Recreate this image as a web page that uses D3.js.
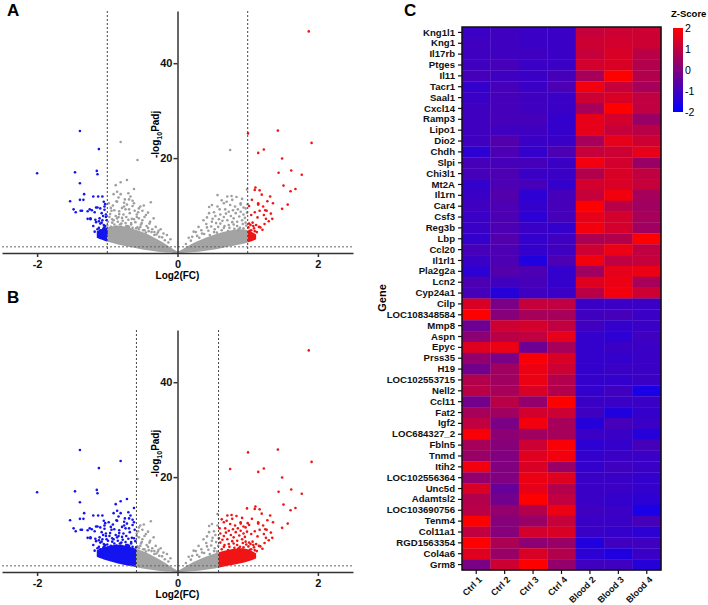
<!DOCTYPE html>
<meta charset="utf-8">
<script src="https://d3js.org/d3.v7.min.js"></script>
<style>
  body { margin: 0; background: #fff; }
  text { font-family: Arial, "Liberation Sans", sans-serif; }
</style>
<div id="my_dataviz"></div>
<script>

// ---------- volcano data (log2FC, -log10 Padj), shared by panels A and B ----------
var fcTicks = [-2, 0, 2];
var padjTicks = [20, 40];
var padjCut = 1.3;          // -log10(0.05)
var fcCutA = 1;             // |log2FC| > 1
var fcCutB = 0.585;         // |log2FC| > log2(1.5)

// dense bottom of the cloud: [log2FC, lower, upper]
var coreLeft = [[-1.15,3.2,4.6],[-1.05,2.6,5.2],[-0.95,2.2,5.6],[-0.85,1.8,5.8],[-0.75,1.5,5.6],[-0.65,1.2,5.2],
  [-0.55,0.9,4.7],[-0.45,0.6,4.1],[-0.35,0.4,3.4],[-0.25,0.2,2.6],[-0.15,0.08,1.7],[-0.05,0,0.7],[0,0,0.3]];
var coreRight = [[0,0,0.3],[0.05,0,0.6],[0.15,0.08,1.5],[0.25,0.2,2.3],[0.35,0.35,2.9],[0.45,0.55,3.5],
  [0.55,0.8,4.0],[0.65,1.1,4.4],[0.75,1.4,4.8],[0.85,1.7,5.0],[0.95,2.0,5.0],[1.05,2.4,4.6],[1.12,2.9,3.9]];

var genesDown = [[-1.39,25.7],[-1.12,21.9],[-2.0,16.8],[-1.46,17.0],[-1.15,17.3],[-1.14,16.6],[-1.39,14.7],
  [-1.33,12.4],[-1.39,11.2],[-1.34,11.2],[-1.53,10.9],[-1.20,11.9],[-1.13,11.9],[-1.07,11.9],[-1.48,9.2],
  [-1.45,8.6],[-1.38,8.9],[-1.36,8.9],[-1.25,9.2],[-1.22,9.0],[-1.16,9.6],[-1.14,9.6],[-1.10,9.4],[-1.05,10.8],
  [-1.03,10.3],[-1.04,9.8],[-1.04,9.1],[-1.18,8.6],[-1.08,8.4],[-1.28,7.2],[-1.24,7.3],[-1.17,7.0],[-1.11,7.3],
  [-1.07,6.9],[-1.02,7.6],[-1.01,6.9],[-1.20,5.7],[-1.10,6.2],[-1.05,5.9],[-1.10,4.8],[-1.09,4.7],[-1.06,5.0],
  [-1.04,5.4],[-1.01,4.6],[-1.01,4.1],[-1.07,4.1],[-1.28,8.8],[-1.24,7.1],[-1.12,6.7],[-1.05,5.3],[-1.09,3.2],
  [-1.12,5.3],[-1.08,6.4],[-1.03,5.7],[-1.18,4.5],[-1.14,5.0],[-1.11,3.8],[-1.16,6.5],[-1.02,8.1],[-1.06,7.8]];

var genesMid = [[-0.81,23.4],[-0.57,19.6],[-0.81,14.9],[-0.72,15.4],[-0.62,13.5],[-0.88,14.3],[-0.86,12.9],
  [-0.91,12.4],[-0.81,12.4],[-0.75,11.3],[-0.86,10.8],[-0.38,10.7],[-0.62,10.5],[-0.69,11.3],[-0.53,9.8],
  [-0.69,9.2],[-0.56,8.6],[-0.42,8.5],[-0.94,8.9],[-0.83,8.2],[-0.73,7.6],[-0.65,7.2],[-0.50,6.9],[-0.40,6.2],
  [-0.31,5.5],[-0.91,6.9],[-0.80,6.2],[-0.95,5.5],[-0.71,5.7],[-0.57,5.4],[-0.47,4.8],[-0.37,4.4],[-0.26,3.4],
  [-0.18,2.7],[-0.97,7.6],[-0.58,7.6],[-0.45,8.0],[-0.76,9.8],[-0.98,10.5],[-0.67,11.9],[-0.50,8.9],[-0.34,7.3],
  [-0.24,5.0],[-0.15,3.8],[-0.95,9.5],[-0.83,8.8],[-0.74,9.2],[-0.64,9.9],[-0.88,7.8],[-0.79,7.4],[-0.62,7.1],
  [-0.93,6.4],[-0.82,6.0],[-0.73,5.7],[-0.64,5.3],[-1.0,5.8],[-0.87,5.6],[-0.55,5.0],[-0.45,4.3],[-0.33,3.8],
  [-0.76,10.6],[-0.87,10.9],[-0.66,6.3],[-0.52,6.0],[-0.42,5.3],[-0.28,4.3],
  [-0.99,6.6],[-0.96,5.2],[-0.93,7.1],[-0.9,6.0],[-0.88,5.4],[-0.85,6.6],[-0.84,7.6],[-0.8,5.5],[-0.78,6.8],
  [-0.77,8.1],[-0.74,6.3],[-0.7,7.0],[-0.69,5.5],[-0.68,8.4],[-0.66,6.0],[-0.6,6.5],[-0.59,5.2],[-0.58,8.1],
  [-0.55,7.3],[-0.53,5.5],[-0.51,6.3],[-0.49,4.8],[-0.47,7.6],[-0.44,5.7],[-0.41,4.6],[-0.39,6.6],[-0.36,5.0],
  [-0.33,4.4],[-0.3,3.9],[-0.27,4.7],[-0.22,3.3],[-0.2,4.1],[-0.13,2.2],[-0.1,2.9],[-0.96,8.2],[-0.9,9.0],
  [-0.79,9.5],[-0.72,10.2],[-0.86,7.3],[-0.92,10.0],[-0.61,8.9],[-0.55,9.4],[-0.48,10.0],[-0.64,11.0],
  [-0.7,12.6],[-0.84,11.7],
  [0.75,21.7],[0.57,12.2],[0.77,12.0],[0.71,11.9],[0.78,11.2],[0.66,10.5],[0.49,10.1],[0.82,9.8],[0.60,9.2],
  [0.73,8.7],[0.90,8.7],[0.45,8.4],[0.54,7.8],[0.66,7.6],[0.80,7.3],[0.92,6.9],[0.37,6.9],[0.49,6.6],[0.61,6.2],
  [0.73,5.9],[0.85,5.7],[0.30,5.5],[0.42,5.4],[0.53,5.0],[0.94,5.2],[0.23,4.5],[0.35,4.1],[0.21,3.4],[0.90,10.5],
  [0.97,9.4],[0.45,9.7],[0.99,13.4],[0.84,11.8],[0.90,10.2],[0.94,8.1],[0.99,8.5],[0.68,9.2],[0.61,8.1],
  [0.87,5.0],[0.97,6.4],[0.66,5.3],[0.80,6.0],[0.56,4.3],[0.46,3.8],[0.72,4.6],[0.86,4.6],[0.31,3.2],
  [0.98,5.8],[0.96,7.4],[0.93,6.1],[0.89,5.3],[0.88,7.7],[0.85,6.6],[0.83,8.4],[0.81,5.1],[0.78,6.5],
  [0.76,7.8],[0.74,5.3],[0.71,6.9],[0.69,8.3],[0.67,5.7],[0.64,6.8],[0.63,4.8],[0.59,7.1],[0.58,5.5],
  [0.55,6.3],[0.52,4.4],[0.5,7.2],[0.48,5.6],[0.44,4.7],[0.41,6.1],[0.38,4.0],[0.34,4.8],[0.28,3.6],
  [0.26,4.4],[0.19,2.6],[0.16,3.2],[0.12,1.9],[0.94,9.6],[0.86,9.2],[0.79,9.0],[0.75,10.1],[0.7,10.8],
  [0.63,11.1],[0.57,9.8],[0.52,8.6],[0.42,7.5],[0.92,11.4]];

var genesUp = [[1.87,46.7],[1.43,25.8],[1.91,23.2],[1.005,25.2],[1.15,21.1],[1.23,21.8],[1.49,19.9],[1.44,16.9],
  [1.62,17.4],[1.77,16.5],[1.51,14.2],[1.61,13.0],[1.68,13.5],[1.10,13.3],[1.17,13.2],[1.20,12.3],[1.32,11.9],
  [1.02,9.9],[1.15,10.5],[1.15,10.2],[1.36,10.5],[1.57,10.2],[1.49,9.3],[1.17,8.9],[1.25,9.0],[1.27,8.9],
  [1.33,8.3],[1.23,8.0],[1.26,7.2],[1.30,6.7],[1.35,7.2],[1.12,5.9],[1.16,5.5],[1.08,5.7],[1.05,4.8],[1.03,4.7],
  [1.10,4.6],[1.24,6.1],[1.04,5.9],[1.02,6.2],[1.11,13.8],
  [1.13,4.4],[1.09,5.2],[1.07,6.4],[1.01,5.4],[1.18,5.4],[1.21,4.9],[1.14,7.5],[1.1,8.6],[1.05,8.0],
  [1.0,10.3],[1.06,11.2],[1.22,9.8],[1.28,10.9]];

// ---------- heatmap data ----------
var genes = ["Kng1l1","Kng1","Il17rb","Ptges","Il11","Tacr1","Saal1","Cxcl14","Ramp3","Lipo1","Dio2","Chdh",
  "Slpi","Chi3l1","Mt2A","Il1rn","Car4","Csf3","Reg3b","Lbp","Ccl20","Il1rl1","Pla2g2a","Lcn2","Cyp24a1",
  "Cilp","LOC108348584","Mmp8","Aspn","Epyc","Prss35","H19","LOC102553715","Nell2","Ccl11","Fat2","Igf2",
  "LOC684327_2","Fbln5","Tnmd","Itih2","LOC102556364","Unc5d","Adamtsl2","LOC103690756","Tenm4","Col11a1",
  "RGD1563354","Col4a6","Grm8"];
var samples = ["Ctrl 1","Ctrl 2","Ctrl 3","Ctrl 4","Blood 2","Blood 3","Blood 4"];
var zscores = [
  [-1.1,-1.0,-1.1,-1.1,1.1,1.2,1.2],
  [-1.0,-1.0,-1.1,-1.1,1.2,1.3,1.2],
  [-1.0,-1.0,-1.0,-1.1,1.1,1.4,0.9],
  [-1.0,-0.9,-1.1,-1.1,1.3,1.4,0.8],
  [-0.9,-1.0,-1.1,-0.9,0.6,2.0,0.8],
  [-1.2,-0.9,-1.1,-0.8,1.8,1.1,0.6],
  [-1.1,-0.9,-1.0,-1.1,1.2,1.4,1.0],
  [-1.0,-0.9,-1.0,-1.1,0.6,2.0,1.0],
  [-1.0,-0.9,-0.9,-1.2,1.6,1.3,0.4],
  [-1.0,-1.0,-1.0,-1.2,1.6,1.1,0.9],
  [-1.0,-0.7,-1.1,-1.1,0.6,1.6,1.2],
  [-1.3,-0.8,-1.2,-0.8,1.1,1.2,1.6],
  [-0.9,-0.9,-0.9,-1.1,1.8,1.3,0.4],
  [-0.9,-0.8,-1.1,-1.1,0.8,1.4,1.0],
  [-1.2,-0.8,-0.9,-1.2,1.3,1.4,1.1],
  [-1.1,-0.7,-1.3,-0.9,1.1,1.8,0.6],
  [-1.0,-0.8,-1.2,-0.9,2.0,0.9,0.5],
  [-1.1,-0.8,-1.3,-0.9,1.6,1.3,0.6],
  [-1.1,-0.8,-1.1,-1.2,1.8,1.3,0.5],
  [-1.2,-0.7,-1.2,-1.0,0.7,0.8,2.0],
  [-0.9,-0.8,-1.2,-1.0,1.2,1.7,1.0],
  [-1.1,-0.8,-1.5,-0.8,1.8,1.0,1.1],
  [-1.3,-0.7,-0.8,-1.2,0.5,1.6,1.7],
  [-0.8,-1.0,-0.9,-1.2,1.5,1.7,0.6],
  [-0.9,-1.4,-1.0,-1.1,0.9,1.8,1.2],
  [1.4,-0.1,1.1,1.0,-1.1,-1.1,-1.1],
  [2.0,0.1,0.6,0.6,-1.0,-0.9,-1.1],
  [-0.3,1.2,1.3,1.0,-1.0,-1.2,-1.1],
  [0.2,0.9,1.0,1.6,-1.2,-1.3,-1.0],
  [1.5,1.7,-0.3,0.6,-1.2,-1.1,-1.1],
  [0.3,-0.1,1.9,1.4,-1.2,-1.2,-1.1],
  [-0.2,0.5,1.7,1.2,-1.2,-1.1,-1.1],
  [0.8,0.5,1.7,0.8,-1.2,-1.2,-1.1],
  [0.9,0.6,1.4,0.8,-1.2,-1.0,-1.6],
  [-0.2,0.9,0.3,2.0,-1.1,-1.1,-1.1],
  [0.6,0.5,1.3,1.2,-1.0,-1.5,-1.2],
  [1.0,-0.1,1.8,0.6,-1.4,-0.9,-1.1],
  [1.9,0.2,0.5,0.6,-1.1,-1.1,-1.4],
  [0.6,0.1,1.2,1.9,-1.3,-1.2,-0.9],
  [0.4,0.0,1.5,1.8,-1.2,-1.1,-1.1],
  [1.8,0.0,1.4,0.4,-1.2,-1.0,-1.1],
  [0.3,0.0,1.7,1.5,-1.1,-1.1,-1.2],
  [1.4,-0.4,1.6,0.8,-1.1,-1.1,-1.2],
  [0.8,-0.2,2.0,1.0,-1.1,-1.2,-1.3],
  [0.9,0.3,0.8,1.7,-1.0,-1.1,-1.6],
  [2.0,0.1,0.4,1.1,-1.1,-1.1,-0.9],
  [1.0,0.1,1.3,1.4,-1.1,-1.2,-1.3],
  [2.0,0.7,0.2,0.4,-1.5,-1.0,-1.0],
  [1.5,0.4,1.4,0.8,-1.3,-1.5,-1.1],
  [-0.1,1.2,2.0,0.3,-1.0,-1.0,-1.4]];
var zTicks = [2, 1, 0, -1, -2];

// ---------- svg ----------
var W = 708, H = 605;
var svg = d3.select("#my_dataviz").append("svg")
    .attr("width", W).attr("height", H);

var fcPoints = genesDown.concat(genesMid, genesUp);

function drawVolcano(id, top, fcCut) {
    var x = d3.scaleLinear().domain([-2.5, 2.5]).range([2, 353]);
    var y = d3.scaleLinear().domain([0, 51]).range([top + 242, top]);
    var g = svg.append("g");

    // clip boxes for down / not sig / up
    var defs = g.append("defs");
    var parts = [
        {key: "dn", x0: 0, x1: x(-fcCut), col: "#1414f0"},
        {key: "ns", x0: x(-fcCut), x1: x(fcCut), col: "#a3a3a3"},
        {key: "up", x0: x(fcCut), x1: 360, col: "#f01414"}];
    parts.forEach(function (p) {
        defs.append("clipPath").attr("id", id + p.key)
          .append("rect").attr("x", p.x0).attr("y", top - 5)
          .attr("width", p.x1 - p.x0).attr("height", 260);
    });

    var area = d3.area().curve(d3.curveBasis)
        .x(function (d) { return x(d[0]); })
        .y0(function (d) { return y(d[1]); })
        .y1(function (d) { return y(d[2]); });

    parts.forEach(function (p) {
        var cg = g.append("g").attr("clip-path", "url(#" + id + p.key + ")");
        [coreLeft, coreRight].forEach(function (c) {
            cg.append("path").attr("d", area(c)).attr("fill", p.col);
        });
    });

    function col(d) {
        if (d[0] < -fcCut && d[1] > padjCut) return "#1414f0";
        if (d[0] > fcCut && d[1] > padjCut) return "#f01414";
        return "#9e9e9e";
    }
    g.append("g").selectAll("circle")
        .data(fcPoints)
        .enter().append("circle")
        .attr("cx", function (d) { return x(d[0]); })
        .attr("cy", function (d) { return y(d[1]); })
        .attr("r", 1.3)
        .attr("fill", col);

    // cut-off lines
    g.append("line").attr("x1", 2).attr("x2", 353)
        .attr("y1", y(padjCut)).attr("y2", y(padjCut))
        .attr("stroke", "#666").attr("stroke-width", 1).attr("stroke-dasharray", "2,2");
    [-fcCut, fcCut].forEach(function (v) {
        g.append("line").attr("x1", x(v)).attr("x2", x(v))
            .attr("y1", y(51)).attr("y2", y(0))
            .attr("stroke", "#444").attr("stroke-width", 1).attr("stroke-dasharray", "2,2");
    });

    // axes
    var xa = g.append("g").attr("transform", "translate(0," + y(0) + ")")
        .call(d3.axisBottom(x).tickValues(fcTicks).tickSize(4).tickSizeOuter(0)
              .tickFormat(function (d) { return String(d); }));
    var ya = g.append("g").attr("transform", "translate(" + x(0) + ",0)")
        .call(d3.axisLeft(y).tickValues(padjTicks).tickSize(4).tickSizeOuter(0));
    [xa, ya].forEach(function (a) {
        a.selectAll("path, line").attr("stroke", "#333").attr("stroke-width", 1.5);
        a.selectAll("text").attr("font-size", 11).attr("font-weight", "bold")
         .attr("fill", "#111").attr("font-family", "Arial, 'Liberation Sans', sans-serif");
    });
    ya.selectAll("text").attr("x", -5);

    g.append("text").attr("x", x(0)).attr("y", y(0) + 26)
        .attr("text-anchor", "middle").attr("font-size", 10).attr("font-weight", "bold")
        .text("Log2(FC)");

    var yl = g.append("text")
        .attr("transform", "translate(" + (x(0) - 19) + "," + y(25) + ") rotate(-90)")
        .attr("text-anchor", "middle").attr("font-size", 10).attr("font-weight", "bold");
    yl.append("tspan").text("-log");
    yl.append("tspan").attr("font-size", 7).attr("dy", 3).text("10");
    yl.append("tspan").attr("dy", -3).text("Padj");
}

drawVolcano("A", 11, fcCutA);
drawVolcano("B", 330, fcCutB);

// panel letters
[["A", 7, 16], ["B", 7, 303], ["C", 404, 16]].forEach(function (p) {
    svg.append("text").attr("x", p[1]).attr("y", p[2])
        .attr("font-size", 17).attr("font-weight", "bold").text(p[0]);
});

// ---------- heatmap ----------
var hx = d3.scaleBand().domain(samples).range([462, 661]);
var hy = d3.scaleBand().domain(genes).range([27, 570]);
var color = d3.scaleLinear().domain([-2, 0, 2]).range(["#0000ff", "#800080", "#ff0000"]);

var cells = [];
zscores.forEach(function (row, i) {
    row.forEach(function (v, j) { cells.push({g: genes[i], s: samples[j], v: v}); });
});
svg.append("g").selectAll("rect")
    .data(cells).enter().append("rect")
    .attr("x", function (d) { return hx(d.s); })
    .attr("y", function (d) { return hy(d.g); })
    .attr("width", hx.bandwidth() + 0.3)
    .attr("height", hy.bandwidth() + 0.3)
    .attr("fill", function (d) { return color(d.v); });

svg.append("rect").attr("x", 462).attr("y", 27).attr("width", 199).attr("height", 543)
    .attr("fill", "none").attr("stroke", "#111").attr("stroke-width", 1.5);

var ha = svg.append("g").attr("transform", "translate(462,0)")
    .call(d3.axisLeft(hy).tickSize(4).tickSizeOuter(0));
ha.select(".domain").remove();
ha.selectAll("line").attr("stroke", "#111").attr("stroke-width", 1.2);
ha.selectAll("text").attr("font-size", 9.6).attr("font-weight", "bold").attr("fill", "#111")
    .attr("font-family", "Arial, 'Liberation Sans', sans-serif");

var hb = svg.append("g").attr("transform", "translate(0,570)")
    .call(d3.axisBottom(hx).tickSize(4).tickSizeOuter(0));
hb.select(".domain").remove();
hb.selectAll("line").attr("stroke", "#111").attr("stroke-width", 1.2);
hb.selectAll("text").attr("font-size", 9).attr("font-weight", "bold").attr("fill", "#111")
    .attr("font-family", "Arial, 'Liberation Sans', sans-serif")
    .attr("text-anchor", "end")
    .attr("x", 0).attr("y", 0).attr("dy", "0.35em")
    .attr("transform", "translate(4,8) rotate(-45)");

svg.append("text")
    .attr("transform", "translate(386,298) rotate(-90)")
    .attr("text-anchor", "middle").attr("font-size", 11).attr("font-weight", "bold")
    .text("Gene");

// colour bar
var zs = d3.scaleLinear().domain([-2, 2]).range([112, 28]);
var grad = svg.append("defs").append("linearGradient").attr("id", "zgrad")
    .attr("x1", 0).attr("x2", 0).attr("y1", 1).attr("y2", 0);
[-2, 0, 2].forEach(function (v) {
    grad.append("stop").attr("offset", (v + 2) / 4).attr("stop-color", color(v));
});
svg.append("rect").attr("x", 673).attr("y", zs(2)).attr("width", 10)
    .attr("height", zs(-2) - zs(2)).attr("fill", "url(#zgrad)");
svg.append("g").selectAll("text").data(zTicks).enter().append("text")
    .attr("x", 685).attr("y", function (d) { return zs(d); })
    .attr("dy", "0.35em").attr("font-size", 10.5).text(function (d) { return d; });
svg.append("text").attr("x", 671).attr("y", 17).attr("font-size", 9.5)
    .attr("font-weight", "bold").text("Z-Score");

</script>
